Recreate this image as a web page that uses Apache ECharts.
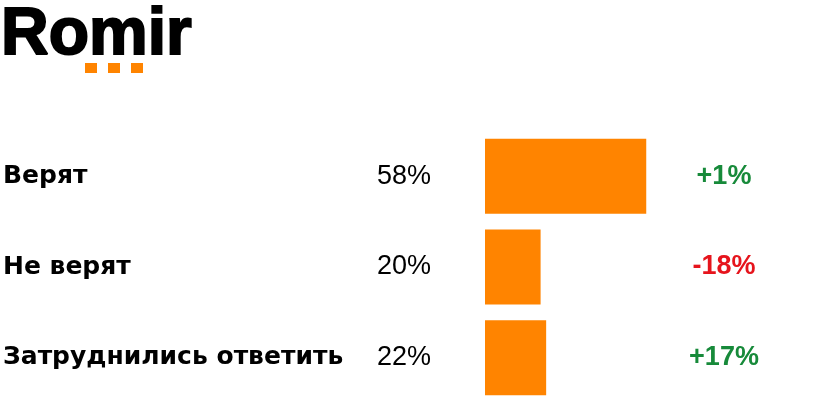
<!DOCTYPE html>
<html>
<head>
<meta charset="utf-8">
<script src="https://cdn.jsdelivr.net/npm/echarts@6/dist/echarts.min.js"></script>
<style>
html,body{margin:0;padding:0;background:#fff;}
#chart{width:828px;height:404px;}
</style>
</head>
<body>
<div id="chart"></div>
<script>
// ---- data ----
var categories = ['Верят', 'Не верят', 'Затруднились ответить'];
var shares = [58, 20, 22];
var changes = ['+1%', '-18%', '+17%'];

// ---- styling constants ----
var ORANGE = '#ff8400';
var GREEN = '#178a3a';
var RED = '#e6141c';
var GRID_LEFT = 485, GRID_WIDTH = 278;
var ARIAL = '"Liberation Sans", Arial, sans-serif';

var chart = echarts.init(document.getElementById('chart'), null, {renderer: 'canvas'});

var option = {
  animation: false,
  backgroundColor: '#ffffff',
  grid: {left: GRID_LEFT, width: GRID_WIDTH, top: 131, height: 272},
  xAxis: {
    type: 'value', min: 0, max: 100,
    show: false
  },
  yAxis: [
    {
      type: 'category', data: categories, inverse: true, position: 'left',
      axisLine: {show: false}, axisTick: {show: false}, splitLine: {show: false},
      axisLabel: {
        margin: GRID_LEFT - 3, align: 'left', verticalAlign: 'middle',
        fontFamily: '"DejaVu Sans", sans-serif', fontWeight: 'bold',
        fontSize: 25, color: '#000', padding: [0, 0, 3, 0]
      }
    },
    {
      type: 'category', data: categories, inverse: true, position: 'left',
      axisLine: {show: false}, axisTick: {show: false}, splitLine: {show: false},
      axisLabel: {
        margin: GRID_LEFT - 377, align: 'left', verticalAlign: 'middle',
        fontFamily: ARIAL,
        fontSize: 27, color: '#000', padding: [0, 0, 1, 0],
        formatter: function (v, i) { return shares[i] + '%'; }
      }
    },
    {
      type: 'category', data: categories, inverse: true, position: 'right',
      offset: -(GRID_LEFT + GRID_WIDTH - 724),
      axisLine: {show: false}, axisTick: {show: false}, splitLine: {show: false},
      axisLabel: {
        margin: 0, align: 'center', verticalAlign: 'middle',
        fontFamily: ARIAL, fontWeight: 'bold',
        fontSize: 27,
        formatter: function (v, i) {
          return (changes[i].charAt(0) === '-' ? '{neg|' : '{pos|') + changes[i] + '}';
        },
        rich: {
          pos: {color: GREEN, fontWeight: 'bold', fontSize: 27, fontFamily: ARIAL},
          neg: {color: RED, fontWeight: 'bold', fontSize: 27, fontFamily: ARIAL}
        }
      }
    }
  ],
  series: [{
    type: 'bar',
    yAxisIndex: 0,
    data: shares,
    barWidth: 75,
    itemStyle: {color: ORANGE}
  }],
  graphic: [
    {
      type: 'text', left: 0, top: 2,
      style: {
        text: 'Romir', fill: '#000', stroke: '#000', lineWidth: 2,
        font: 'bold 66px "Liberation Sans", Arial, sans-serif'
      }
    },
    {type: 'rect', shape: {x: 85, y: 63, width: 12, height: 10}, style: {fill: ORANGE}},
    {type: 'rect', shape: {x: 108, y: 63, width: 12, height: 10}, style: {fill: ORANGE}},
    {type: 'rect', shape: {x: 131, y: 63, width: 12, height: 10}, style: {fill: ORANGE}}
  ]
};
chart.setOption(option);
</script>
</body>
</html>
